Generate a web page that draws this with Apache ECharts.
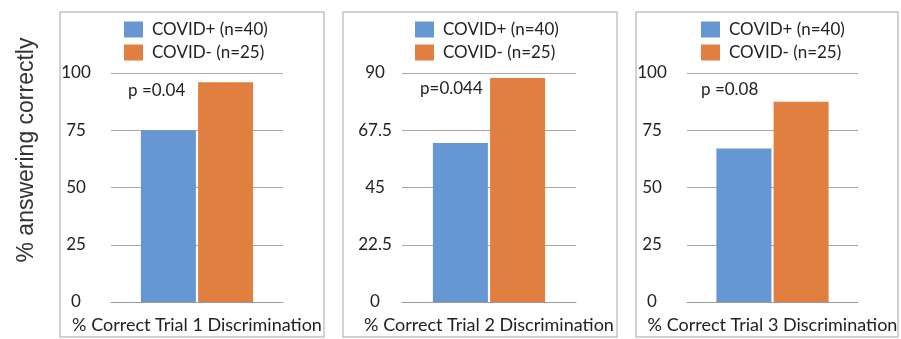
<!DOCTYPE html>
<html>
<head>
<meta charset="utf-8">
<script src="https://cdn.jsdelivr.net/npm/echarts@6/dist/echarts.min.js"></script>
<style>html,body{margin:0;padding:0;background:#fff}#c{width:901px;height:339px}</style>
</head>
<body>
<div id="c"></div>
<script>
const categories = ['% Correct Trial 1 Discrimination', '% Correct Trial 2 Discrimination', '% Correct Trial 3 Discrimination'];
const seriesNames = ['COVID+ (n=40)', 'COVID- (n=25)'];
const covidPos = [75, 62.5, 67];
const covidNeg = [96, 88, 87.5];
const pValues = ['p =0.04', 'p=0.044', 'p =0.08'];
const yMax = [100, 90, 100];
const yInterval = [25, 22.5, 25];
const yTitle = '% answering correctly';

const colors = ['#6697d3', '#e07f3f'];
const font = 'Lato, "Open Sans", sans-serif';

const gridLeft = [111, 402, 687];
const gridWidth = [172, 174, 171];
const labelMargin = [35, 27, 35];
const boxes = [[60, 12, 264, 325], [343, 12, 274, 325], [636, 12, 262, 325]];
const legendLeft = [119, 410, 696];
const pPos = [[128, 91], [420, 89], [701, 90]];

const grids = [], xAxes = [], yAxes = [], series = [], legends = [], graphics = [];
for (let i = 0; i < 3; i++) {
  grids.push({left: gridLeft[i], width: gridWidth[i], top: 73, height: 229});
  xAxes.push({
    type: 'category', gridIndex: i, data: [categories[i]],
    axisLine: {show: true, lineStyle: {color: '#9a9a9a', width: 1}},
    axisTick: {show: false},
    axisLabel: {interval: 0, margin: 14, fontFamily: font, fontSize: 18, color: '#222'}
  });
  yAxes.push({
    type: 'value', gridIndex: i, min: 0, max: yMax[i], interval: yInterval[i],
    axisLine: {show: false}, axisTick: {show: false},
    splitLine: {show: true, lineStyle: {color: '#a8a8a8', width: 1}},
    axisLabel: {margin: labelMargin[i], align: 'center', fontFamily: font, fontSize: 17, color: '#222'}
  });
  series.push({
    type: 'bar', name: seriesNames[0], xAxisIndex: i, yAxisIndex: i,
    data: [covidPos[i]], barWidth: 55, barGap: '4%',
    itemStyle: {color: colors[0]}
  });
  series.push({
    type: 'bar', name: seriesNames[1], xAxisIndex: i, yAxisIndex: i,
    data: [covidNeg[i]], barWidth: 55, barGap: '4%',
    itemStyle: {color: colors[1]}
  });
  legends.push({
    data: seriesNames, orient: 'vertical', left: legendLeft[i], top: 16,
    itemWidth: 19, itemHeight: 16, itemGap: 6, icon: 'rect', selectedMode: false,
    textStyle: {fontFamily: font, fontSize: 17, color: '#222', padding: [0, 0, 0, 4]}
  });
  const b = boxes[i];
  graphics.push({
    type: 'rect', shape: {x: b[0], y: b[1], width: b[2], height: b[3]},
    style: {fill: 'none', stroke: '#c4c4c4', lineWidth: 1.5}, z: -10
  });
  graphics.push({
    type: 'text', x: pPos[i][0], y: pPos[i][1],
    style: {text: pValues[i], fontFamily: font, fontSize: 17, fill: '#222', verticalAlign: 'middle'}
  });
}
graphics.push({
  type: 'text', x: 27, y: 150, rotation: Math.PI / 2,
  style: {text: yTitle, fontFamily: '"Liberation Sans", Arial, sans-serif', fontSize: 23, fill: '#333', align: 'center', verticalAlign: 'middle'}
});

const chart = echarts.init(document.getElementById('c'), null, {renderer: 'canvas'});
chart.setOption({
  animation: false,
  grid: grids, xAxis: xAxes, yAxis: yAxes, series: series, legend: legends, graphic: graphics
});
</script>
</body>
</html>
